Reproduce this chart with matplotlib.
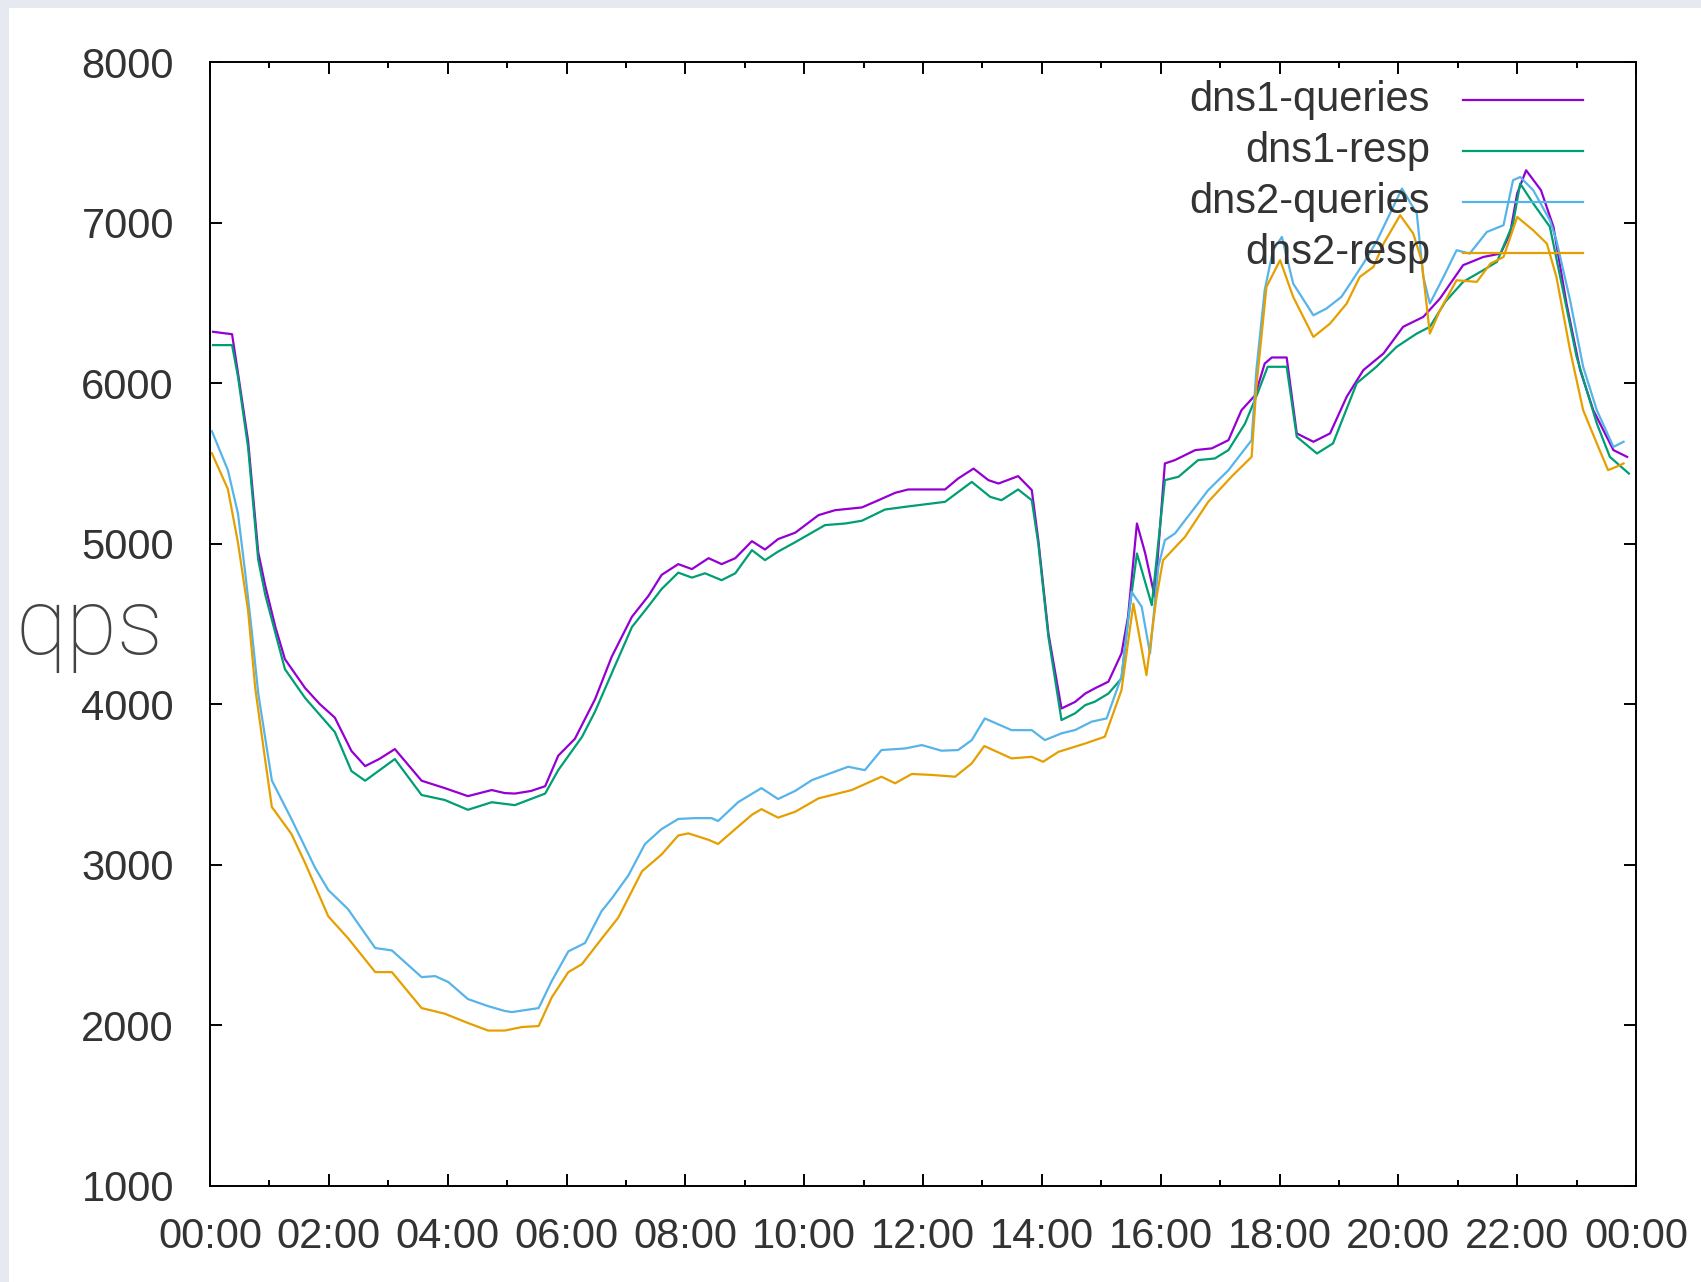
import matplotlib
matplotlib.use("Agg")
import matplotlib.pyplot as plt
from matplotlib.patches import Rectangle
from matplotlib.ticker import MultipleLocator

# dns1-queries (hour of day, qps)
q1_hours = [0.05, 0.37, 0.47, 0.64, 0.81, 0.93, 1.10, 1.26, 1.60, 1.85, 2.10, 2.38, 2.61, 2.85,
            3.11, 3.56, 3.95, 4.34, 4.74, 4.96, 5.13, 5.40, 5.64, 5.86, 6.14, 6.48, 6.76, 7.10,
            7.38, 7.60, 7.88, 8.11, 8.39, 8.61, 8.84, 9.12, 9.34, 9.56, 9.85, 10.24, 10.52,
            10.97, 11.25, 11.53, 11.75, 12.37, 12.59, 12.85, 13.10, 13.27, 13.60, 13.83, 13.94,
            14.11, 14.33, 14.56, 14.73, 14.89, 15.12, 15.34, 15.45, 15.60, 15.74, 15.90, 16.07,
            16.24, 16.58, 16.86, 17.14, 17.36, 17.59, 17.75, 17.87, 18.12, 18.29, 18.57, 18.85,
            19.13, 19.41, 19.75, 20.08, 20.42, 20.70, 21.09, 21.43, 21.72, 21.88, 22.00, 22.15,
            22.40, 22.61, 22.83, 23.06, 23.28, 23.62, 23.85]
q1_vals = [6320, 6305, 6062, 5639, 4948, 4736, 4480, 4281, 4101, 4000, 3917, 3709, 3615, 3660,
           3721, 3524, 3478, 3428, 3466, 3447, 3444, 3460, 3490, 3680, 3785, 4032, 4296, 4545,
           4676, 4806, 4873, 4842, 4910, 4873, 4910, 5016, 4964, 5029, 5069, 5178, 5209,
           5226, 5271, 5317, 5338, 5338, 5406, 5468, 5396, 5375, 5421, 5334, 5022,
           4441, 3974, 4015, 4067, 4099, 4141, 4317, 4545, 5126, 4939, 4669, 5500,
           5521, 5583, 5594, 5645, 5832, 5925, 6122, 6160, 6160, 5687, 5635, 5687,
           5915, 6081, 6185, 6351, 6413, 6527, 6735, 6786, 6807, 6932, 7181, 7326,
           7202, 6974, 6496, 6081, 5832, 5583, 5541]

# dns1-resp
r1_hours = [0.05, 0.37, 0.47, 0.64, 0.81, 0.93, 1.26, 1.60, 2.10, 2.38, 2.61, 3.11, 3.56, 3.95,
            4.34, 4.74, 5.13, 5.64, 5.86, 6.26, 6.48, 6.82, 7.10, 7.38, 7.60, 7.88, 8.11, 8.33,
            8.61, 8.84, 9.12, 9.34, 9.56, 9.85, 10.35, 10.69, 10.97, 11.36, 11.70, 12.37, 12.82,
            13.13, 13.32, 13.60, 13.83, 13.94, 14.11, 14.33, 14.56, 14.73, 14.89, 15.12, 15.34,
            15.45, 15.60, 15.85, 16.07, 16.30, 16.63, 16.91, 17.14, 17.42, 17.64, 17.80, 18.12,
            18.29, 18.63, 18.90, 19.30, 19.63, 19.97, 20.31, 20.53, 20.79, 21.09, 21.43, 21.66,
            21.93, 22.05, 22.27, 22.55, 22.77, 23.00, 23.34, 23.56, 23.88]
r1_vals = [6237, 6237, 6040, 5600, 4900, 4680, 4219, 4039, 3827, 3584, 3524, 3659, 3435, 3404,
           3343, 3390, 3372, 3444, 3590, 3797, 3955, 4244, 4481, 4612, 4718, 4820, 4789, 4816,
           4773, 4816, 4960, 4898, 4951, 5010, 5116, 5126, 5143, 5213, 5230, 5261, 5385,
           5292, 5271, 5338, 5271, 5000, 4420, 3902, 3944, 3995, 4016, 4067, 4161,
           4524, 4939, 4618, 5396, 5417, 5521, 5531, 5583, 5749, 5946, 6102, 6102,
           5666, 5562, 5625, 6000, 6102, 6226, 6309, 6351, 6507, 6631, 6704, 6756,
           6994, 7243, 7119, 6974, 6579, 6164, 5749, 5541, 5437]

# dns2-queries
q2_hours = [0.03, 0.30, 0.47, 0.59, 0.70, 0.81, 1.04, 1.37, 1.77, 1.99, 2.32, 2.78, 3.06, 3.56,
            3.79, 4.01, 4.34, 4.68, 4.96, 5.08, 5.53, 5.75, 6.03, 6.31, 6.59, 6.76, 7.04, 7.32,
            7.60, 7.88, 8.16, 8.44, 8.55, 8.89, 9.28, 9.56, 9.85, 10.13, 10.74, 11.02, 11.30,
            11.70, 11.98, 12.31, 12.59, 12.82, 13.04, 13.49, 13.83, 14.05, 14.33, 14.56, 14.84,
            15.09, 15.34, 15.51, 15.68, 15.82, 15.96, 16.07, 16.24, 16.80, 17.14, 17.53, 17.61,
            17.75, 17.89, 18.04, 18.23, 18.57, 18.79, 19.04, 19.19, 19.41, 19.63, 19.86, 20.06,
            20.31, 20.42, 20.53, 20.76, 20.98, 21.20, 21.49, 21.77, 21.93, 22.05, 22.27, 22.55,
            22.66, 22.89, 23.11, 23.34, 23.62, 23.79]
q2_vals = [5701, 5458, 5187, 4823, 4462, 4070, 3525, 3285, 2980, 2843, 2725, 2482, 2467, 2301,
           2307, 2270, 2164, 2120, 2090, 2083, 2108, 2276, 2461, 2513, 2712, 2790, 2934, 3130,
           3223, 3286, 3291, 3291, 3273, 3391, 3478, 3410, 3461, 3528, 3611, 3590, 3715,
           3725, 3746, 3711, 3715, 3777, 3912, 3839, 3839, 3777, 3819, 3840, 3892,
           3912, 4172, 4701, 4607, 4317, 4856, 5022, 5064, 5334, 5458, 5645, 6081,
           6579, 6828, 6911, 6620, 6423, 6465, 6537, 6620, 6745, 6880, 7057, 7212,
           7057, 6662, 6496, 6662, 6828, 6807, 6942, 6984, 7264, 7284, 7202, 7015,
           6890, 6517, 6102, 5832, 5603, 5635]

# dns2-resp
r2_hours = [0.03, 0.30, 0.47, 0.64, 0.76, 0.93, 1.04, 1.37, 1.60, 1.99, 2.32, 2.78, 3.06, 3.56,
            3.95, 4.34, 4.68, 4.96, 5.25, 5.53, 5.75, 6.03, 6.26, 6.59, 6.87, 7.27, 7.60, 7.88,
            8.05, 8.39, 8.55, 8.84, 9.12, 9.28, 9.56, 9.85, 10.24, 10.80, 11.30, 11.53, 11.81,
            12.15, 12.54, 12.82, 13.03, 13.49, 13.83, 14.02, 14.28, 14.73, 15.06, 15.34, 15.54,
            15.76, 15.93, 16.04, 16.41, 16.80, 17.19, 17.53, 17.61, 17.78, 18.01, 18.23, 18.57,
            18.85, 19.13, 19.35, 19.58, 19.75, 20.03, 20.25, 20.39, 20.53, 20.70, 20.98, 21.32,
            21.55, 21.77, 22.00, 22.27, 22.50, 22.66, 22.89, 23.11, 23.34, 23.53, 23.73, 23.79]
r2_vals = [5564, 5340, 5006, 4583, 4101, 3646, 3360, 3192, 3011, 2679, 2544, 2332, 2332, 2108,
           2073, 2015, 1968, 1968, 1990, 1996, 2174, 2332, 2382, 2540, 2671, 2960, 3065, 3183,
           3196, 3156, 3130, 3223, 3312, 3347, 3294, 3331, 3414, 3466, 3549, 3508, 3566,
           3560, 3549, 3632, 3740, 3663, 3673, 3642, 3704, 3756, 3798, 4088, 4627,
           4182, 4669, 4898, 5043, 5261, 5417, 5541, 5977, 6600, 6766, 6537, 6288,
           6371, 6496, 6662, 6724, 6869, 7046, 6932, 6766, 6309, 6454, 6641, 6631,
           6745, 6786, 7035, 6952, 6869, 6662, 6205, 5832, 5625, 5458, 5489, 5500]

names = ["dns1-queries", "dns1-resp", "dns2-queries", "dns2-resp"]
colors = ["#9400d3", "#009e73", "#56b4e9", "#e69f00"]
hours = [q1_hours, r1_hours, q2_hours, r2_hours]
values = [q1_vals, r1_vals, q2_vals, r2_vals]

x_ticks = list(range(0, 25, 2))
x_labels = ["%02d:00" % (h % 24) for h in x_ticks]
y_ticks = list(range(1000, 8001, 1000))

plt.rcParams["font.family"] = ["Liberation Sans", "DejaVu Sans"]

fig = plt.figure(figsize=(17.01, 12.82), dpi=100)
fig.patch.set_facecolor("#e6e9ef")

# White page with the light grey strip on top and left (kept behind the axes)
fig.patches.append(Rectangle((9 / 1701, 0), 1, 1 - 8 / 1282, transform=fig.transFigure,
                             facecolor="white", edgecolor="none", zorder=-10))

ax = fig.add_axes([0.1235, 0.0749, 0.8383, 0.8767])
ax.set_facecolor("white")

for h, v, c in zip(hours, values, colors):
    ax.plot(h, v, color=c, linewidth=1.6)

ax.set_xlim(0, 24)
ax.set_ylim(1000, 8000)
ax.set_xticks(x_ticks)
ax.set_xticklabels(x_labels)
ax.set_yticks(y_ticks)
ax.xaxis.set_minor_locator(MultipleLocator(1))

# gnuplot style ticks: inside, mirrored
ax.tick_params(which="both", direction="in", top=True, right=True, width=1.4, color="black")
ax.tick_params(which="major", length=8.6, labelsize=30, labelcolor="#333333")
ax.tick_params(which="minor", length=4.3)
ax.tick_params(axis="x", which="major", pad=22)
ax.tick_params(axis="y", which="major", pad=26)

for s in ["bottom", "top", "right", "left"]:
    ax.spines[s].set_linewidth(1.4)
    ax.spines[s].set_color("black")

# Legend, right aligned text with line sample after it
for i, (name, c) in enumerate(zip(names, colors)):
    yy = 0.966 - i * 0.0453
    ax.text(0.8555, yy, name, transform=ax.transAxes, ha="right", va="center",
            fontsize=30, color="#333333")
    ax.plot([0.879, 0.963], [yy, yy], transform=ax.transAxes, color=c, linewidth=1.6)

fig.text(0.009, 0.49, "qps", ha="left", va="baseline", fontsize=67,
         family=["Roboto", "DejaVu Sans"], fontweight="light", color="#444444")

fig.savefig("out.png", dpi=100, facecolor=fig.get_facecolor())
